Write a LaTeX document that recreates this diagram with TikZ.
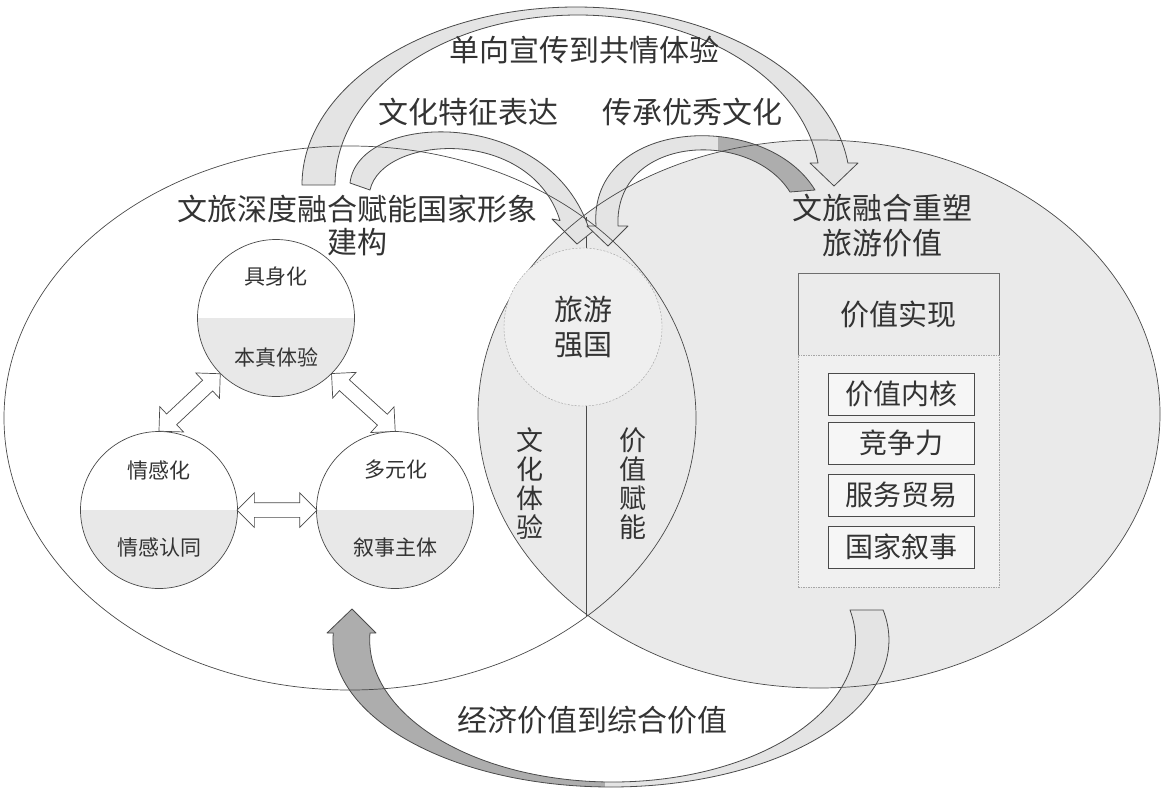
\documentclass[tikz,border=0pt]{standalone}
\usepackage{fontspec}
\setmainfont{Noto Sans CJK SC}
\usetikzlibrary{shapes.arrows,positioning}

\definecolor{inkgray}{HTML}{333333}
\definecolor{edgegray}{HTML}{4A4A4A}
\definecolor{ovalgray}{HTML}{EAEAEA}
\definecolor{bandlight}{HTML}{E4E4E4}
\definecolor{banddark}{HTML}{ADADAD}
\definecolor{halfgray}{HTML}{E8E8E8}
\definecolor{hubgray}{HTML}{EFEFEF}

\tikzset{
  bigtext/.style={text=inkgray, font=\fontsize{30}{33}\selectfont, align=center, inner sep=0pt},
  vtext/.style={text=inkgray, font=\fontsize{27}{29}\selectfont, align=center, inner sep=0pt},
  smalltext/.style={text=inkgray, font=\fontsize{21}{24}\selectfont, inner sep=0pt},
  band/.style={draw=edgegray, line width=0.8pt, fill=bandlight, line join=round},
  ring/.style={draw=edgegray, line width=0.7pt},
  topic/.style={circle, draw=edgegray, line width=0.7pt, minimum size=157pt, inner sep=0pt,
    path picture={\fill[halfgray] (path picture bounding box.west) rectangle (path picture bounding box.south east);}},
  twoway/.style={double arrow, draw=edgegray, fill=white, line width=0.7pt, inner sep=0pt,
    inner ysep=7pt, double arrow head extend=10pt, minimum width=34pt, sloped},
  hub/.style={circle, draw=gray!75, dash pattern=on 2pt off 1.5pt, fill=hubgray, minimum size=158pt,
    inner sep=0pt, text=inkgray, font=\fontsize{29}{35}\selectfont, align=center},
  valhead/.style={draw=edgegray!80, fill=gray!16, minimum width=201pt, minimum height=82pt, inner sep=0pt,
    text=inkgray, font=\fontsize{29}{33}\selectfont},
  valbody/.style={draw=gray!70, dash pattern=on 1.5pt off 1pt, fill=gray!12, minimum width=201pt,
    minimum height=232pt, inner sep=0pt},
  valbox/.style={draw=edgegray, fill=gray!7, minimum width=146pt, minimum height=42pt, inner sep=0pt,
    text=inkgray, font=\fontsize{28}{30}\selectfont},
}

\begin{document}
\begin{tikzpicture}[x=1pt, y=-1pt]
  \fill[white] (0,0) rectangle (1162,796);
  \useasboundingbox (0,0) rectangle (1162,796);

  % two big ovals, filled first
  \fill[white] (350,418) ellipse [x radius=346, y radius=272];
  \fill[ovalgray] (819,414) ellipse [x radius=341, y radius=274];
  \coordinate (lenstop) at (586,217);
  \coordinate (lensbot) at (586,616);
  \draw[edgegray, line width=0.6pt] (lenstop) -- (lensbot);

  % curved block arrows
  \filldraw[band] (302,185) arc [start angle=180, end angle=352.9, x radius=274, y radius=178]
    -- (858,163) -- (834,186) -- (810,163) -- (818,163)
    arc [start angle=352.56, end angle=180, x radius=242.5, y radius=170] -- cycle;
  \filldraw[band] (350,183) .. controls (358,112) and (545,105) .. (588,226)
    -- (597,228) -- (577,244) -- (552,219) -- (560,220.5)
    .. controls (530,125) and (382,135) .. (370,190) -- cycle;
  \filldraw[band, path picture={\fill[banddark] (718,100) rectangle (830,260);}]
    (596,226) .. controls (588,118) and (765,108) .. (815,190)
    -- (790,192) .. controls (750,128) and (614,135) .. (618,226)
    -- (628,226) -- (608,246) -- (587,226) -- cycle;
  \filldraw[band, path picture={\fill[banddark] (300,580) rectangle (605,796);}]
    (333.3,633) arc [start angle=182.73, end angle=-11.78, x radius=278, y radius=147]
    -- (850,610) arc [start angle=-12.2, end angle=182.83, x radius=242.9, y radius=142]
    -- (376,633) -- (352,609) -- (327,633) -- cycle;

  % oval outlines on top
  \draw[ring] (350,418) ellipse [x radius=346, y radius=272];
  \draw[ring] (819,414) ellipse [x radius=341, y radius=274];

  % captions
  \node[bigtext] (oneway) at (584,50) {单向宣传到共情体验};
  \node[bigtext] (cultexp) at (468,112) {文化特征表达};
  \node[bigtext] (inherit) at (692,112) {传承优秀文化};
  \node[bigtext] (leftttl) at (357.5,226) {文旅深度融合赋能国家形象\\建构};
  \node[bigtext, font=\fontsize{30}{35}\selectfont] (rightttl) at (882,225.5) {文旅融合重塑\\旅游价值};
  \node[bigtext] (econ) at (592,720) {经济价值到综合价值};

  % centre of the lens
  \node[hub] (hub) at (583,327) {旅游\\强国};
  \node[vtext] (culture) at (530,484) {文\\化\\体\\验};
  \node[vtext] (empower) at (633,484) {价\\值\\赋\\能};

  % three topic circles
  \node[topic] (jsh) at (276,318) {};
  \node[topic] (qgh) at (159,510) {};
  \node[topic] (dyh) at (395,510) {};
  \node[smalltext] (jshup) at (276,277) {具身化};
  \node[smalltext] (jshlo) at (276,357) {本真体验};
  \node[smalltext] (qghup) at (159,470) {情感化};
  \node[smalltext] (qghlo) at (159,548) {情感认同};
  \node[smalltext] (dyhup) at (396,470) {多元化};
  \node[smalltext] (dyhlo) at (395,548) {叙事主体};
  \path (qgh.north) -- (jsh.225) node[twoway, midway, minimum height=84pt] {};
  \path (jsh.-45) -- (dyh.north) node[twoway, midway, minimum height=86pt] {};
  \path (qgh.east) -- (dyh.west) node[twoway, midway, minimum height=80pt] {};

  % value block
  \node[valhead] (jzsx) at (898.5,314) {价值实现};
  \node[valbody, below=0pt of jzsx] (jzbody) {};
  \node[valbox] (hx) at (901,394) {价值内核};
  \node[valbox] (jzl) at (901,443) {竞争力};
  \node[valbox] (fwmy) at (901,495) {服务贸易};
  \node[valbox] (gjxs) at (901,547) {国家叙事};
\end{tikzpicture}
\end{document}
